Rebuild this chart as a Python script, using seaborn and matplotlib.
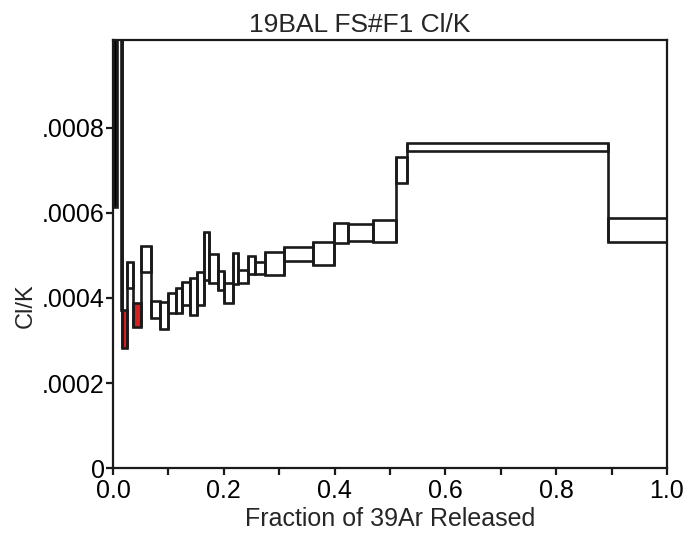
import numpy as np
import pandas as pd
import seaborn as sns
import matplotlib
matplotlib.use("Agg")
import matplotlib.pyplot as plt
from matplotlib.ticker import FuncFormatter, MultipleLocator, FixedLocator

# step boundaries (fraction of 39Ar released) and Cl/K range of each step
frac_lo = [0.000, 0.0150, 0.0157, 0.0247, 0.0354, 0.0498, 0.0679, 0.0848, 0.0987,
           0.1132, 0.1251, 0.1390, 0.1511, 0.1637, 0.1733, 0.1901, 0.2009, 0.2161,
           0.2262, 0.2431, 0.2563, 0.2749, 0.3087, 0.3605, 0.3995, 0.4242, 0.4688,
           0.5103, 0.5313, 0.8940]
frac_hi = [0.007, 0.0157, 0.0247, 0.0354, 0.0498, 0.0679, 0.0848, 0.0987, 0.1132,
           0.1251, 0.1390, 0.1511, 0.1637, 0.1733, 0.1901, 0.2009, 0.2161, 0.2262,
           0.2431, 0.2563, 0.2749, 0.3087, 0.3605, 0.3995, 0.4242, 0.4688, 0.5103,
           0.5313, 0.8940, 1.0000]
clk_lo = [0.000614, 0.000372, 0.000282, 0.000424, 0.000332, 0.000462, 0.000353,
          0.000326, 0.000364, 0.000364, 0.000384, 0.000360, 0.000384, 0.000442,
          0.000435, 0.000419, 0.000388, 0.000433, 0.000436, 0.000456, 0.000456,
          0.000454, 0.000487, 0.000478, 0.000529, 0.000535, 0.000532, 0.000670,
          0.000746, 0.000531]
clk_hi = [0.0015, 0.0015, 0.000372, 0.000485, 0.000388, 0.000522, 0.000393,
          0.000391, 0.000412, 0.000423, 0.000438, 0.000446, 0.000460, 0.000556,
          0.000504, 0.000464, 0.000435, 0.000506, 0.000466, 0.000499, 0.000485,
          0.000509, 0.000521, 0.000532, 0.000577, 0.000574, 0.000584, 0.000731,
          0.000765, 0.000589]
# fill: 'k' = black, 'r' = red (highlighted), 'w' = open
step_fill = ['k', 'w', 'r', 'w', 'r'] + ['w'] * 25

y_ticks = [0, 0.0002, 0.0004, 0.0006, 0.0008]

df = pd.DataFrame({"lo": frac_lo, "hi": frac_hi, "clk_lo": clk_lo,
                   "clk_hi": clk_hi, "fill": step_fill})
colors = {"k": "black", "r": "#d42020", "w": "white"}

sns.set_style("ticks")
plt.rcParams["font.family"] = ["Liberation Sans", "DejaVu Sans"]

fig = plt.figure(figsize=(6.86, 5.39), dpi=100)
ax = fig.add_axes([0.1647, 0.1317, 0.8076, 0.7941])

lw = 1.9
ax.bar(df["lo"], df["clk_hi"] - df["clk_lo"], width=df["hi"] - df["lo"],
       bottom=df["clk_lo"], align="edge",
       color=[colors[c] for c in df["fill"]], edgecolor="#1a1a1a",
       linewidth=lw, zorder=2)

# vertical connectors between adjacent steps
for i in range(len(df) - 1):
    if abs(df["hi"][i] - df["lo"][i + 1]) < 1e-9:
        y0 = min(df["clk_lo"][i], df["clk_lo"][i + 1])
        y1 = max(df["clk_hi"][i], df["clk_hi"][i + 1])
        ax.vlines(df["hi"][i], y0, y1, color="#1a1a1a", linewidth=lw, zorder=3)

ax.set_xlim(0, 1.0)
ax.set_ylim(0, 0.001007)
ax.xaxis.set_major_locator(MultipleLocator(0.2))
ax.xaxis.set_minor_locator(MultipleLocator(0.1))
ax.yaxis.set_major_locator(FixedLocator(y_ticks))
ax.xaxis.set_major_formatter(FuncFormatter(lambda v, p: f"{v:.1f}"))
ax.yaxis.set_major_formatter(
    FuncFormatter(lambda v, p: "0" if v == 0 else f"{v:.4f}".lstrip("0")))

for s in ax.spines.values():
    s.set_linewidth(1.6)
    s.set_color("#1a1a1a")
ax.tick_params(which="both", direction="out", length=5, width=1.6,
               colors="#1a1a1a", labelsize=18, labelcolor="black")
ax.tick_params(axis="x", which="major", pad=3)
ax.tick_params(axis="y", pad=1)

ax.set_xlabel("Fraction of 39Ar Released", fontsize=18, labelpad=3)
ax.set_ylabel("Cl/K", fontsize=17, labelpad=6)
ax.yaxis.set_label_coords(-0.138, 0.38)
ax.set_title("19BAL FS#F1 Cl/K", fontsize=19, pad=6, x=0.445)

fig.savefig("out.png", dpi=100)
